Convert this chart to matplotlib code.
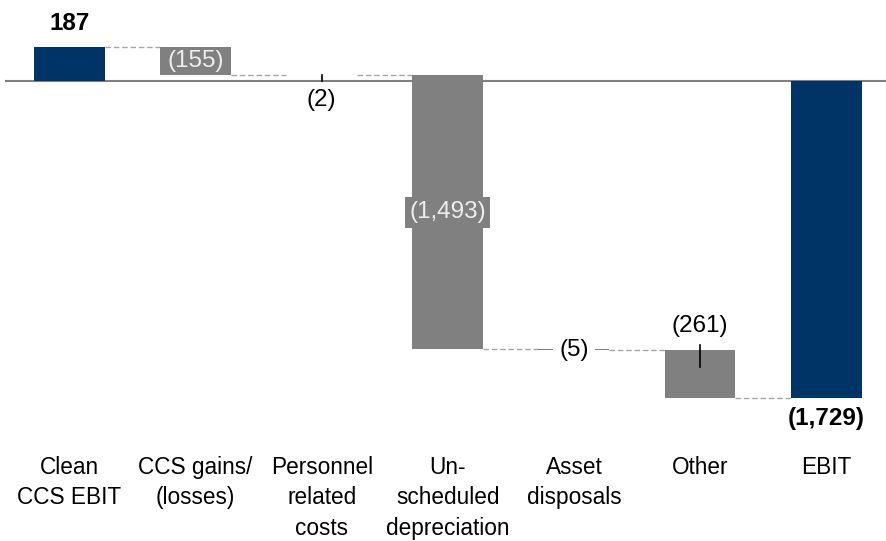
import numpy as np
import matplotlib
matplotlib.use("Agg")
import matplotlib.pyplot as plt

plt.rcParams['font.family'] = ['Liberation Sans', 'DejaVu Sans']

categories = ["Clean\nCCS EBIT", "CCS gains/\n(losses)", "Personnel\nrelated\ncosts",
              "Un-\nscheduled\ndepreciation", "Asset\ndisposals", "Other", "EBIT"]
values = [187, -155, -2, -1493, -5, -261, -1729]
labels = ["187", "(155)", "(2)", "(1,493)", "(5)", "(261)", "(1,729)"]
is_total = [True, False, False, False, False, False, True]

NAVY = "#003366"
GREY = "#808080"
FS = 17.5
CAT_FS = 16.3

# waterfall bottoms / tops
ends = []
bottoms = []
heights = []
running = 0
for v, tot in zip(values, is_total):
    if tot:
        bottoms.append(0)
        heights.append(v)
        running = v
    else:
        bottoms.append(running)
        heights.append(v)
        running += v
    ends.append(running)

fig = plt.figure(figsize=(8.86, 5.41), dpi=100)
ax = fig.add_axes([0, 0, 1, 1])
ax.set_xlim(-0.551, 6.475)
ax.set_ylim(-2507, 441)
ax.axis('off')

x = np.arange(len(values))
w = 0.563
colors = [NAVY if t else GREY for t in is_total]
ax.bar(x, heights, bottom=bottoms, width=w, color=colors, zorder=3)

ax.axhline(0, xmin=0.007, xmax=1, color=GREY, lw=1.5, zorder=2)

# dashed connectors between bars
for i in range(len(values) - 1):
    ax.plot([x[i] + w / 2, x[i + 1] - w / 2], [ends[i], ends[i]],
            color="#a6a6a6", lw=1, ls=(0, (4, 2)), zorder=1)

tops = [max(b, b + h) for b, h in zip(bottoms, heights)]
lows = [min(b, b + h) for b, h in zip(bottoms, heights)]

# value labels
ax.annotate(labels[0], (x[0], tops[0]), xytext=(0, 17), textcoords='offset points',
            ha='center', va='center', fontsize=FS, fontweight='bold')
ax.text(x[1], (tops[1] + lows[1]) / 2, labels[1], ha='center', va='center',
        fontsize=FS, color='#eeeeee', zorder=4)
ax.plot([x[2], x[2]], [lows[2], 0], color='black', lw=1.2, zorder=4)
ax.annotate(labels[2], (x[2], lows[2]), xytext=(0, -17.5), textcoords='offset points',
            ha='center', va='center', fontsize=FS)
ax.text(x[3], (tops[3] + lows[3]) / 2, labels[3], ha='center', va='center',
        fontsize=FS, color='#eeeeee', zorder=4,
        bbox=dict(boxstyle='square,pad=0.18', fc=GREY, ec='none'))
ax.text(x[4], (tops[4] + lows[4]) / 2, labels[4], ha='center', va='center',
        fontsize=FS, zorder=4,
        bbox=dict(boxstyle='square,pad=0.25', fc='white', ec='none'))
ax.plot([x[5], x[5]], [tops[5] + 30, tops[5] - 90], color='black', lw=1.2, zorder=4)
ax.annotate(labels[5], (x[5], tops[5]), xytext=(0, 17.5), textcoords='offset points',
            ha='center', va='center', fontsize=FS)
ax.annotate(labels[6], (x[6], lows[6]), xytext=(0, -14.5), textcoords='offset points',
            ha='center', va='center', fontsize=FS, fontweight='bold')

# category labels
for xi, cat in zip(x, categories):
    ax.text(xi, -2045, cat, ha='center', va='top', fontsize=CAT_FS, linespacing=1.4)

fig.savefig("out.png", dpi=100)
